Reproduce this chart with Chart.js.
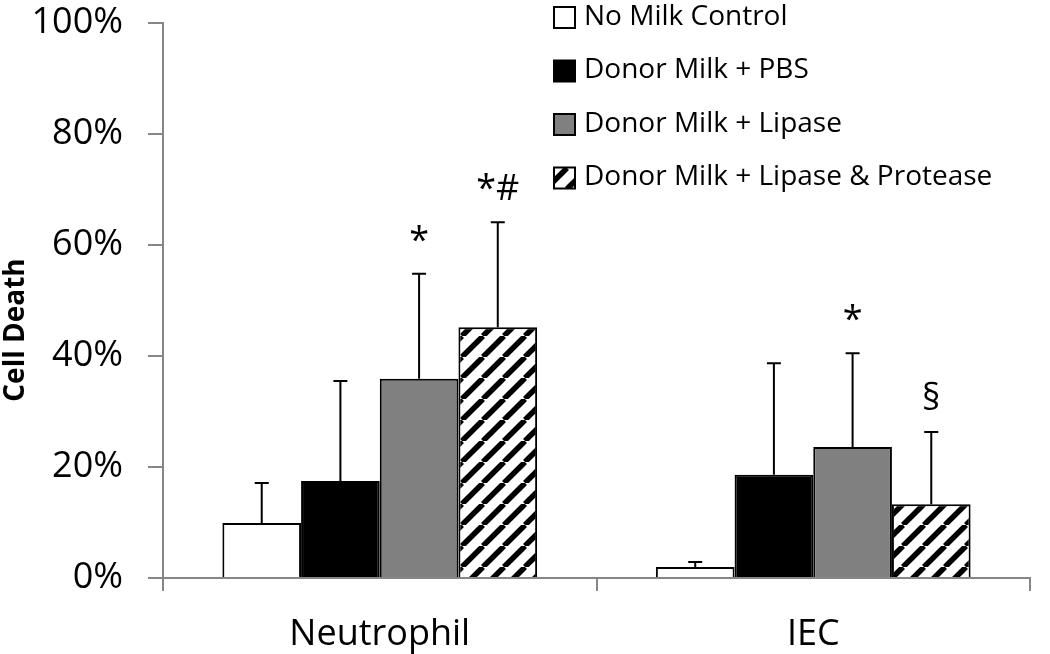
<!DOCTYPE html>
<html>
<head>
<meta charset="utf-8">
<script src="https://cdn.jsdelivr.net/npm/chart.js@4"></script>
<style>
    html, body { margin: 0; padding: 0; background: #fff; }
    #wrap { width: 1050px; height: 654px; }
</style>
</head>
<body>
<div id="wrap"><canvas id="deathChart" width="1050" height="654"></canvas></div>
<script>
// Cell death by cell type and treatment
const categories = ['Neutrophil', 'IEC'];
const seriesNames = ['No Milk Control', 'Donor Milk + PBS', 'Donor Milk + Lipase', 'Donor Milk + Lipase & Protease'];
const noMilk = [9.9, 2.0];
const milkPbs = [17.5, 18.6];
const milkLipase = [35.9, 23.6];
const milkLipaseProtease = [45.2, 13.3];
// upper error bar (SD)
const noMilkErr = [7.2, 0.9];
const milkPbsErr = [18.0, 20.1];
const milkLipaseErr = [18.9, 16.9];
const milkLipaseProteaseErr = [18.9, 13.0];
// significance marks above each bar
const noMilkMarks = ['', ''];
const milkPbsMarks = ['', ''];
const milkLipaseMarks = ['*', '*'];
const milkLipaseProteaseMarks = ['*#', '§'];
const yTicks = [0, 20, 40, 60, 80, 100];

const FONT = "'Open Sans', 'DejaVu Sans', sans-serif";

function hatchPattern() {
    const s = 21;
    const c = document.createElement('canvas');
    c.width = s; c.height = s;
    const g = c.getContext('2d');
    g.fillStyle = '#fff';
    g.fillRect(0, 0, s, s);
    g.strokeStyle = '#000';
    g.lineWidth = 5.5;
    for (let k = -1; k <= 1; k++) {
        g.beginPath();
        g.moveTo(k * s, s);
        g.lineTo(k * s + s, 0);
        g.stroke();
    }
    return g.createPattern(c, 'repeat');
}

const hatch = hatchPattern();
const fills = ['#ffffff', '#000000', '#808080', hatch];
const values = [noMilk, milkPbs, milkLipase, milkLipaseProtease];
const errors = [noMilkErr, milkPbsErr, milkLipaseErr, milkLipaseProteaseErr];
const marks = [noMilkMarks, milkPbsMarks, milkLipaseMarks, milkLipaseProteaseMarks];

// error bars + significance labels
const errorBarPlugin = {
    id: 'errorBars',
    afterDatasetsDraw(chart) {
        const ctx = chart.ctx;
        const y = chart.scales.y;
        ctx.save();
        ctx.strokeStyle = '#000';
        ctx.lineWidth = 2;
        chart.data.datasets.forEach((ds, i) => {
            const meta = chart.getDatasetMeta(i);
            meta.data.forEach((bar, j) => {
                const top = y.getPixelForValue(values[i][j] + errors[i][j]);
                ctx.beginPath();
                ctx.moveTo(bar.x, bar.y);
                ctx.lineTo(bar.x, top);
                ctx.moveTo(bar.x - 7, top);
                ctx.lineTo(bar.x + 7, top);
                ctx.stroke();
                const m = marks[i][j];
                if (m) {
                    ctx.fillStyle = '#000';
                    ctx.font = `36px ${FONT}`;
                    ctx.textAlign = 'center';
                    ctx.textBaseline = 'alphabetic';
                    ctx.fillText(m, bar.x, top - 22);
                }
            });
        });
        ctx.restore();
    }
};

// legend drawn inside the plot, top right
const legendPlugin = {
    id: 'cornerLegend',
    afterDraw(chart) {
        const ctx = chart.ctx;
        ctx.save();
        ctx.font = `28px ${FONT}`;
        ctx.textAlign = 'left';
        ctx.textBaseline = 'middle';
        chart.data.datasets.forEach((ds, i) => {
            const cy = 17 + i * 53.5;
            ctx.fillStyle = ds.backgroundColor;
            ctx.fillRect(554, cy - 10, 21, 21);
            ctx.strokeStyle = '#000';
            ctx.lineWidth = 2;
            ctx.strokeRect(554, cy - 10, 21, 21);
            ctx.fillStyle = '#000';
            ctx.fillText(ds.label, 584, cy);
        });
        ctx.restore();
    }
};

// rotated y-axis title
const yTitlePlugin = {
    id: 'yTitle',
    afterDraw(chart) {
        const ctx = chart.ctx;
        ctx.save();
        ctx.translate(16, 330);
        ctx.rotate(-Math.PI / 2);
        ctx.font = `bold 28px ${FONT}`;
        ctx.fillStyle = '#000';
        ctx.textAlign = 'center';
        ctx.textBaseline = 'middle';
        ctx.fillText('Cell Death', 0, 0);
        ctx.restore();
    }
};

const ctx = document.getElementById('deathChart').getContext('2d');
new Chart(ctx, {
    type: 'bar',
    data: {
        labels: categories,
        datasets: seriesNames.map((name, i) => ({
            label: name,
            data: values[i],
            backgroundColor: fills[i],
            borderColor: '#000',
            borderWidth: 2,
            categoryPercentage: 0.726,
            barPercentage: 1.0
        }))
    },
    options: {
        responsive: false,
        animation: false,
        layout: { padding: { left: 0, right: 20, top: 0, bottom: 0 } },
        plugins: {
            legend: { display: false },
            tooltip: { enabled: false }
        },
        scales: {
            y: {
                min: 0,
                max: 100,
                afterFit: s => {
                    s.width = 163;
                    s.paddingTop = 23;
                    s.paddingBottom = 0;
                },
                afterBuildTicks: s => { s.ticks = yTicks.map(v => ({ value: v })); },
                ticks: {
                    callback: v => v + '%',
                    color: '#000',
                    padding: 25,
                    font: { family: FONT, size: 36 }
                },
                grid: { drawOnChartArea: false, color: '#868686', lineWidth: 2, tickLength: 15 },
                border: { color: '#868686', width: 2 }
            },
            x: {
                afterFit: s => { s.height = 76; },
                ticks: {
                    color: '#000',
                    padding: 22,
                    font: { family: FONT, size: 36 }
                },
                grid: { drawOnChartArea: false, offset: true, color: '#868686', lineWidth: 2, tickLength: 13 },
                border: { color: '#868686', width: 2 }
            }
        }
    },
    plugins: [errorBarPlugin, legendPlugin, yTitlePlugin]
});
</script>
</body>
</html>
